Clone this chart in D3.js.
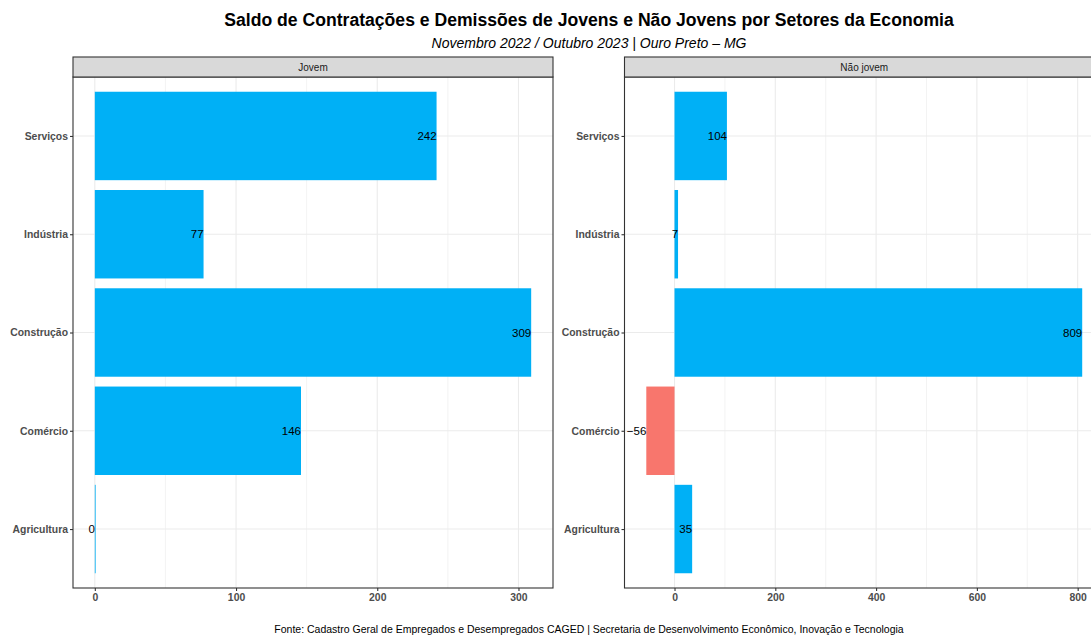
<!DOCTYPE html>
<html>
<head>
<meta charset="utf-8">
<script src="https://cdn.jsdelivr.net/npm/d3@7"></script>
<style>
    body { margin: 0; background: #fff; }
    svg { font-family: "Liberation Sans", Arial, sans-serif; display: block; }
</style>
</head>
<body>
<div id="chart"></div>
<script>
"use strict";

const setores = ["Serviços", "Indústria", "Construção", "Comércio", "Agricultura"];
const jovem = [242, 77, 309, 146, 0];
const naoJovem = [104, 7, 809, -56, 35];
const painelTitulos = ["Jovem", "Não jovem"];
const ticksJovem = [0, 100, 200, 300];
const ticksNaoJovem = [0, 200, 400, 600, 800];

const titulo = "Saldo de Contratações e Demissões de Jovens e Não Jovens por Setores da Economia";
const subtitulo = "Novembro 2022 / Outubro 2023 | Ouro Preto – MG";
const fonte = "Fonte: Cadastro Geral de Empregados e Desempregados CAGED | Secretaria de Desenvolvimento Econômico, Inovação e Tecnologia";

(function () {
    const width = 1091;
    const height = 635;
    const centerX = 589;

    const svg = d3.select("#chart").append("svg")
        .attr("width", width)
        .attr("height", height);

    svg.append("text")
        .attr("x", centerX).attr("y", 26)
        .attr("text-anchor", "middle")
        .attr("font-size", "17.6px").attr("font-weight", "bold")
        .attr("fill", "#000")
        .text(titulo);

    svg.append("text")
        .attr("x", centerX).attr("y", 48)
        .attr("text-anchor", "middle")
        .attr("font-size", "14px").attr("font-style", "italic")
        .attr("fill", "#000")
        .text(subtitulo);

    svg.append("text")
        .attr("x", centerX).attr("y", 633)
        .attr("text-anchor", "middle")
        .attr("font-size", "10.5px")
        .attr("fill", "#000")
        .text(fonte);

    const stripTop = 57;
    const stripH = 20;
    const panelTop = stripTop + stripH;
    const panelBottom = 588;

    const y = d3.scalePoint()
        .domain(setores)
        .range([panelTop, panelBottom])
        .padding(0.6);
    const band = y.step() * 0.9;

    // a domain with ggplot's 5% expansion
    function expanded(values) {
        let lo = Math.min(0, d3.min(values));
        let hi = Math.max(0, d3.max(values));
        let pad = (hi - lo) * 0.05;
        return [lo - pad, hi + pad];
    }

    function drawPanel(left, right, values, ticks, title) {
        const x = d3.scaleLinear().domain(expanded(values)).range([left, right]);
        const g = svg.append("g");

        // minor grid
        const minorTicks = [];
        for (let i = 0; i < ticks.length + 1; i++) {
            const step = ticks[1] - ticks[0];
            minorTicks.push(ticks[0] - step / 2 + i * step);
        }
        g.selectAll(".minor").data(minorTicks.filter(v => v > x.domain()[0] && v < x.domain()[1]))
            .enter().append("line")
            .attr("x1", d => x(d)).attr("x2", d => x(d))
            .attr("y1", panelTop).attr("y2", panelBottom)
            .attr("stroke", "#EBEBEB").attr("stroke-width", 0.6);

        // major grid
        g.selectAll(".major").data(ticks)
            .enter().append("line")
            .attr("x1", d => x(d)).attr("x2", d => x(d))
            .attr("y1", panelTop).attr("y2", panelBottom)
            .attr("stroke", "#EBEBEB").attr("stroke-width", 1.1);

        g.selectAll(".hgrid").data(setores)
            .enter().append("line")
            .attr("x1", left).attr("x2", right)
            .attr("y1", d => y(d)).attr("y2", d => y(d))
            .attr("stroke", "#EBEBEB").attr("stroke-width", 1.1);

        // bars
        g.selectAll(".bar").data(setores)
            .enter().append("rect")
            .attr("x", (d, i) => Math.min(x(0), x(values[i])))
            .attr("width", (d, i) => Math.max(Math.abs(x(values[i]) - x(0)), 0.8))
            .attr("y", d => y(d) - band / 2)
            .attr("height", band)
            .attr("fill", (d, i) => values[i] < 0 ? "#F8766D" : "#00B0F6");

        // value labels
        g.selectAll(".lbl").data(setores)
            .enter().append("text")
            .attr("x", (d, i) => x(values[i]))
            .attr("y", d => y(d))
            .attr("dy", "0.36em")
            .attr("text-anchor", "end")
            .attr("font-size", "11.5px")
            .attr("fill", "#000")
            .text((d, i) => values[i] < 0 ? "\u2212" + Math.abs(values[i]) : values[i]);

        // panel border
        g.append("rect")
            .attr("x", left).attr("y", panelTop)
            .attr("width", right - left).attr("height", panelBottom - panelTop)
            .attr("fill", "none").attr("stroke", "#333").attr("stroke-width", 1.1);

        // strip
        g.append("rect")
            .attr("x", left).attr("y", stripTop)
            .attr("width", right - left).attr("height", stripH)
            .attr("fill", "#D9D9D9").attr("stroke", "#333").attr("stroke-width", 1.1);
        g.append("text")
            .attr("x", (left + right) / 2).attr("y", stripTop + stripH / 2)
            .attr("dy", "0.35em")
            .attr("text-anchor", "middle")
            .attr("font-size", "10px").attr("fill", "#1A1A1A")
            .text(title);

        // axes
        const yAxis = g.append("g")
            .attr("transform", `translate(${left},0)`)
            .call(d3.axisLeft(y).tickSize(3).tickPadding(2));
        const xAxis = g.append("g")
            .attr("transform", `translate(0,${panelBottom})`)
            .call(d3.axisBottom(x).tickValues(ticks).tickSize(3).tickPadding(3).tickFormat(d3.format("d")));

        [yAxis, xAxis].forEach(a => {
            a.select(".domain").remove();
            a.selectAll(".tick line").attr("stroke", "#333").attr("stroke-width", 1.1);
            a.selectAll(".tick text")
                .attr("fill", "#4D4D4D")
                .attr("font-size", "10.4px")
                .attr("font-weight", "bold")
                .attr("font-family", "Liberation Sans, Arial, sans-serif");
        });
    }

    drawPanel(73, 553, jovem, ticksJovem, painelTitulos[0]);
    drawPanel(624.5, 1104, naoJovem, ticksNaoJovem, painelTitulos[1]);
})();
</script>
</body>
</html>
